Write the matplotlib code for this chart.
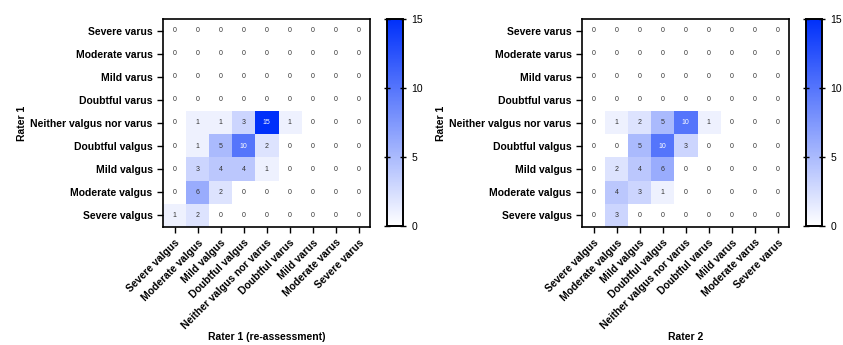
import matplotlib.pyplot as plt
import numpy as np
from matplotlib.colors import LinearSegmentedColormap

plt.rcParams['font.family'] = ['Liberation Sans', 'DejaVu Sans']

# categories (x: left to right, y: top to bottom)
x_labels = ['Severe valgus', 'Moderate valgus', 'Mild valgus', 'Doubtful valgus',
            'Neither valgus nor varus', 'Doubtful varus', 'Mild varus',
            'Moderate varus', 'Severe varus']
y_labels = ['Severe varus', 'Moderate varus', 'Mild varus', 'Doubtful varus',
            'Neither valgus nor varus', 'Doubtful valgus', 'Mild valgus',
            'Moderate valgus', 'Severe valgus']

# Rater 1 vs Rater 1 (re-assessment)
counts_reassess = np.array([
    [0, 0, 0, 0, 0, 0, 0, 0, 0],
    [0, 0, 0, 0, 0, 0, 0, 0, 0],
    [0, 0, 0, 0, 0, 0, 0, 0, 0],
    [0, 0, 0, 0, 0, 0, 0, 0, 0],
    [0, 1, 1, 3, 15, 1, 0, 0, 0],
    [0, 1, 5, 10, 2, 0, 0, 0, 0],
    [0, 3, 4, 4, 1, 0, 0, 0, 0],
    [0, 6, 2, 0, 0, 0, 0, 0, 0],
    [1, 2, 0, 0, 0, 0, 0, 0, 0],
])

# Rater 1 vs Rater 2
counts_rater2 = np.array([
    [0, 0, 0, 0, 0, 0, 0, 0, 0],
    [0, 0, 0, 0, 0, 0, 0, 0, 0],
    [0, 0, 0, 0, 0, 0, 0, 0, 0],
    [0, 0, 0, 0, 0, 0, 0, 0, 0],
    [0, 1, 2, 5, 10, 1, 0, 0, 0],
    [0, 0, 5, 10, 3, 0, 0, 0, 0],
    [0, 2, 4, 6, 0, 0, 0, 0, 0],
    [0, 4, 3, 1, 0, 0, 0, 0, 0],
    [0, 3, 0, 0, 0, 0, 0, 0, 0],
])

cmap = LinearSegmentedColormap.from_list('wb', ['#ffffff', '#0030fa'])

fig = plt.figure(figsize=(8.43, 3.45), dpi=100)

panels = [
    (counts_reassess, 'Rater 1 (re-assessment)', 0.1934, 0.459),
    (counts_rater2, 'Rater 2', 0.6904, 0.956),
]

for data, xlab, x0, cx0 in panels:
    ax = fig.add_axes([x0, 0.342, 0.2456, 0.603])
    im = ax.imshow(data, cmap=cmap, vmin=0, vmax=15, aspect='auto')
    for i in range(data.shape[0]):
        for j in range(data.shape[1]):
            v = data[i, j]
            ax.text(j, i, str(v), ha='center', va='center', fontsize=5,
                    color='white' if v >= 10 else '#333333')
    ax.set_xticks(np.arange(len(x_labels)))
    ax.set_xticklabels(x_labels, rotation=45, ha='right', rotation_mode='anchor',
                       fontsize=7.5, fontweight='bold')
    ax.set_yticks(np.arange(len(y_labels)))
    ax.set_yticklabels(y_labels, fontsize=7.5, fontweight='bold')
    ax.tick_params(length=4, width=1)
    for s in ax.spines.values():
        s.set_linewidth(1.2)
    ax.set_xlabel(xlab, fontsize=7.5, fontweight='bold')
    ax.xaxis.set_label_coords(0.5, -0.505)
    ax.set_ylabel('Rater 1', fontsize=7.5, fontweight='bold')
    ax.yaxis.set_label_coords(-0.655, 0.5)

    cax = fig.add_axes([cx0, 0.345, 0.019, 0.6])
    cb = fig.colorbar(im, cax=cax, ticks=[0, 5, 10, 15])
    cb.outline.set_linewidth(1.4)
    cax.tick_params(direction='inout', left=True, right=True, length=5, width=1,
                    labelsize=7.5)

fig.savefig('out.png', dpi=100)
